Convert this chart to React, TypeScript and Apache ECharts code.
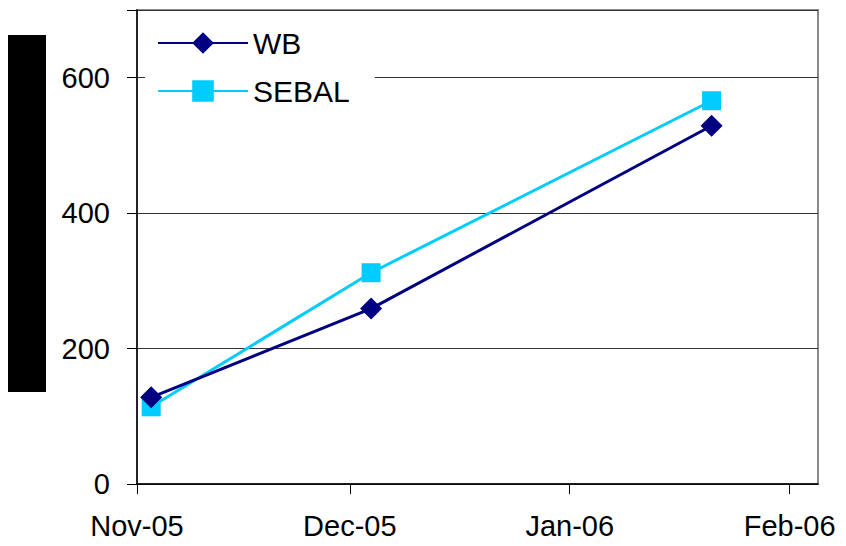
import React, { useEffect, useRef } from "react";
import * as echarts from "echarts";

const dates = ["2005-11-03", "2005-12-04", "2006-01-21"];
const wbValues = [128, 259, 529];
const sebalValues = [114, 312, 566];
const yTicks = [0, 200, 400, 600];
const monthNames = ["Jan", "Feb", "Mar", "Apr", "May", "Jun", "Jul", "Aug", "Sep", "Oct", "Nov", "Dec"];

export default function App() {
  const ref = useRef<HTMLDivElement>(null);
  useEffect(() => {
    if (!ref.current) return;
    const chart = echarts.init(ref.current, undefined, { renderer: "svg" });
    const font = "'Liberation Sans', Arial, sans-serif";
    chart.setOption({
      animation: false,
      backgroundColor: "#ffffff",
      grid: {
        left: 137,
        top: 10,
        right: 28,
        bottom: 62,
        show: true,
        borderColor: "#8a8a8a",
        borderWidth: 2,
        backgroundColor: "transparent",
      },
      legend: {
        left: 145,
        top: 18,
        orient: "vertical",
        backgroundColor: "#ffffff",
        padding: [10, 25, 10, 12],
        itemWidth: 90,
        itemHeight: 27,
        itemGap: 18,
        textStyle: { fontFamily: font, fontSize: 30, color: "#000", lineHeight: 29 },
        data: ["WB", "SEBAL"],
      },
      xAxis: {
        type: "time",
        min: "2005-11-01",
        max: "2006-02-05",
        splitNumber: 3,
        minInterval: 28 * 86400000,
        axisLine: { show: true, lineStyle: { color: "#000", width: 1.5 } },
        axisTick: { show: true, length: 10, lineStyle: { color: "#000", width: 1 } },
        splitLine: { show: false },
        axisLabel: {
          fontFamily: font,
          fontSize: 29,
          color: "#000",
          margin: 27,
          showMinLabel: true,
          formatter: (v: number) => {
            const d = new Date(v);
            return monthNames[d.getMonth()] + "-" + String(d.getFullYear() % 100).padStart(2, "0");
          },
        },
      },
      yAxis: {
        type: "value",
        min: yTicks[0],
        max: 700,
        interval: 200,
        axisLine: { show: true, lineStyle: { color: "#000", width: 1.5 } },
        axisTick: { show: true, length: 10, lineStyle: { color: "#000", width: 1 } },
        splitLine: { show: true, lineStyle: { color: "#333", width: 1 } },
        axisLabel: {
          fontFamily: font,
          fontSize: 29,
          color: "#000",
          margin: 27,
          formatter: (v: number) => (yTicks.includes(v) ? String(v) : ""),
        },
      },
      series: [
        {
          name: "WB",
          type: "line",
          data: dates.map((d, i) => [d, wbValues[i]]),
          symbol: "diamond",
          symbolSize: 22,
          lineStyle: { color: "#000080", width: 3 },
          itemStyle: { color: "#000080" },
          z: 3,
        },
        {
          name: "SEBAL",
          type: "line",
          data: dates.map((d, i) => [d, sebalValues[i]]),
          symbol: "rect",
          symbolSize: 19,
          lineStyle: { color: "#00CCFF", width: 3 },
          itemStyle: { color: "#00CCFF" },
          z: 2,
        },
      ],
      graphic: [
        {
          type: "rect",
          left: 8,
          top: 35,
          shape: { width: 38, height: 357 },
          style: { fill: "#000" },
        },
      ],
    });
    return () => chart.dispose();
  }, []);
  return <div ref={ref} style={{ width: 846, height: 546, margin: -8 }} />;
}
